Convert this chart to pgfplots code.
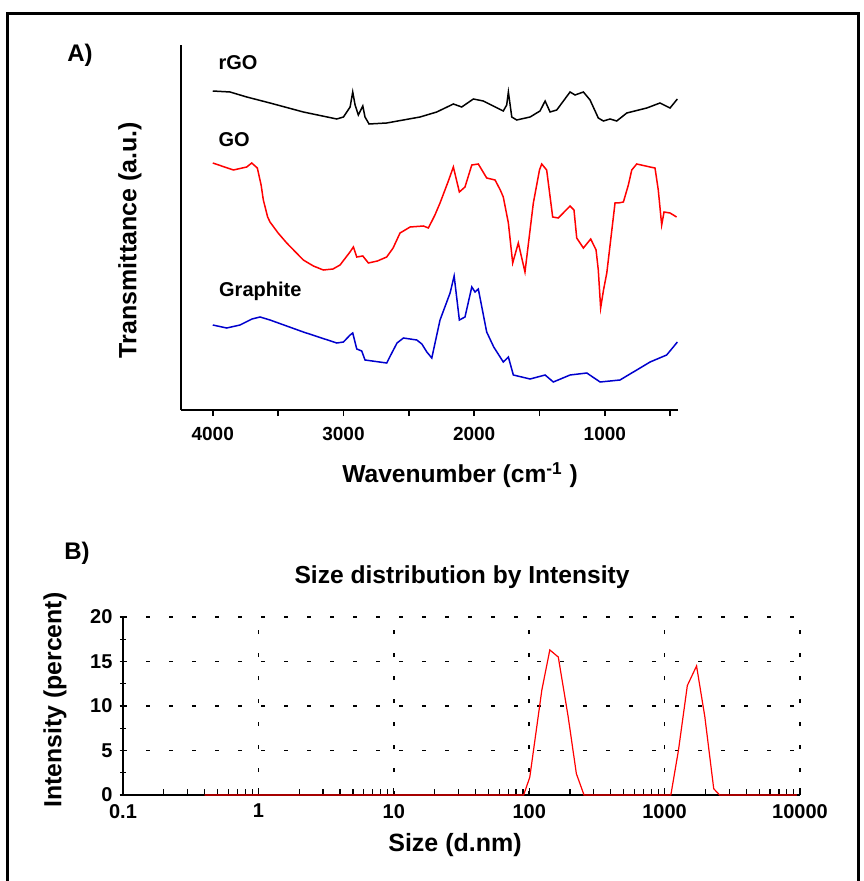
\documentclass[border=0pt]{standalone}
\usepackage{fontspec}
\setmainfont{Liberation Sans}
\usepackage{pgfplots}
\pgfplotsset{compat=1.18}
\definecolor{GOred}{RGB}{255,0,0}
\definecolor{GRblue}{RGB}{0,0,205}

\begin{document}
\begin{tikzpicture}
\path[use as bounding box] (0pt,0pt) rectangle (431.5pt,-440.5pt);
% frame
\draw[line width=1.5pt] (3.5pt,-440.5pt) -- (3.5pt,-7pt) -- (429pt,-7pt) -- (429pt,-440.5pt);

% ---- panel A: FTIR
\begin{axis}[
  name=ftir,
  at={(90.5pt,-205pt)}, anchor=south west,
  scale only axis, width=248.5pt, height=182.5pt,
  x dir=reverse,
  xmin=440, xmax=4243, ymin=0, ymax=365,
  axis x line=bottom, axis y line=left,
  axis line style={-, line width=0.8pt},
  ytick=\empty,
  xtick={1000,2000,3000,4000},
  minor xtick={500,1500,2500,3500},
  tick align=outside,
  major tick length=3pt, minor tick length=3pt,
  tick style={line width=0.8pt, black},
  /pgf/number format/assume math mode=true,
  /pgf/number format/1000 sep={},
  xticklabel style={font=\bfseries\fontsize{9.5}{11}\selectfont, yshift=-2pt},
]
\addplot[black, line width=0.75pt] table {
4000 319
3868 318
3740 313
3562 307
3307 298
3051 291
3000 293
2949 303
2929 318
2911 305
2886 295
2852 304
2835 293
2804 286
2669 287
2414 293
2286 298
2159 306
2095 303
2006 311
1930 309
1777 299
1751 305
1738 318
1712 293
1674 290
1572 293
1496 299
1457 309
1419 298
1368 300
1266 318
1228 315
1164 318
1113 310
1050 292
1011 289
960 291
909 289
832 297
679 302
578 307
501 302
445 311
};
\addplot[GOred, line width=0.75pt] table {
4000 247
3842 240
3740 243
3702 247
3659 242
3630 225
3613 210
3580 193
3562 188
3500 177
3434 167
3307 150
3230 144
3154 140
3080 141
3026 145
2950 158
2924 163
2898 153
2852 154
2809 147
2740 149
2669 153
2620 162
2567 177
2490 183
2388 184
2350 182
2300 195
2261 207
2200 228
2159 243
2113 218
2070 223
2018 245
1968 246
1904 232
1840 230
1800 220
1777 213
1738 187
1705 147
1662 167
1611 138
1547 207
1500 240
1483 246
1445 240
1399 193
1356 192
1266 204
1236 200
1215 172
1164 162
1108 171
1067 160
1050 140
1032 102
1010 120
985 137
922 207
897 207
858 208
820 225
794 240
756 246
654 243
616 242
591 220
565 185
547 198
501 197
451 193
};
\addplot[GRblue, line width=0.75pt] table {
4000 85
3893 82
3791 85
3700 91
3638 93
3562 90
3307 78
3051 67
3000 68
2949 75
2929 77
2898 61
2860 59
2835 50
2669 47
2630 57
2590 67
2541 72
2439 70
2400 66
2362 58
2324 52
2261 90
2184 117
2153 134
2113 90
2070 93
2018 123
1993 118
1968 121
1904 78
1850 63
1777 48
1738 53
1700 35
1572 31
1457 35
1394 28
1266 35
1138 37
1036 28
884 30
756 40
654 48
527 55
476 63
445 68
};
\node[anchor=west, font=\bfseries\fontsize{10}{12}\selectfont] at (axis cs:4010,347) {rGO};
\node[anchor=west, font=\bfseries\fontsize{10}{12}\selectfont] at (axis cs:4010,270) {GO};
\node[anchor=west, font=\bfseries\fontsize{10}{12}\selectfont] at (axis cs:4005,119) {Graphite};
\end{axis}

\node[font=\bfseries\fontsize{12}{14}\selectfont] at (40pt,-27.5pt) {A)};
\node[rotate=90, font=\bfseries\fontsize{12.5}{15}\selectfont] at (65pt,-120pt) {Transmittance (a.u.)};
\node[font=\bfseries\fontsize{12.3}{15}\selectfont] at (230pt,-237.5pt) {Wavenumber (cm\textsuperscript{-1} )};

% ---- panel B: size distribution
\begin{axis}[
  name=dls,
  at={(61.5pt,-397.5pt)}, anchor=south west,
  scale only axis, width=338.5pt, height=89pt,
  xmode=log, log basis x=10,
  xmin=0.1, xmax=10000, ymin=0, ymax=20,
  axis x line=bottom, axis y line=left,
  axis line style={-, line width=0.7pt},
  log ticks with fixed point,
  ytick={0,5,10,15,20},
  minor ytick={2.5,7.5,12.5,17.5},
  grid=major,
  major grid style={black, line width=0.8pt, dash pattern=on 2pt off 9.5pt},
  xtick align=inside, ytick align=center,
  major tick length=3.5pt, minor tick length=3pt,
  tick style={line width=0.6pt, black},
  /pgf/number format/assume math mode=true,
  /pgf/number format/1000 sep={},
  ticklabel style={font=\bfseries\fontsize{10}{12}\selectfont},
  xticklabel style={yshift=-1pt},
]
\addplot[GOred, line width=0.6pt] coordinates {
(0.4,0) (91,0) (101,2.0) (124,11.8) (142,16.3) (164,15.5) (194,8.8)
(223,2.4) (254,0) (1112,0) (1265,5.0) (1472,12.3) (1722,14.5)
(1982,8.8) (2306,0.7) (2548,0) (9500,0)
};
\end{axis}

\node[font=\bfseries\fontsize{12}{14}\selectfont] at (38.5pt,-276.5pt) {B)};
\node[font=\bfseries\fontsize{12.3}{15}\selectfont] at (231pt,-288.5pt) {Size distribution by Intensity};
\node[rotate=90, font=\bfseries\fontsize{12.4}{15}\selectfont] at (27.5pt,-350pt) {Intensity (percent)};
\node[font=\bfseries\fontsize{12.5}{15}\selectfont] at (227.5pt,-422.5pt) {Size (d.nm)};
\end{tikzpicture}
\end{document}
